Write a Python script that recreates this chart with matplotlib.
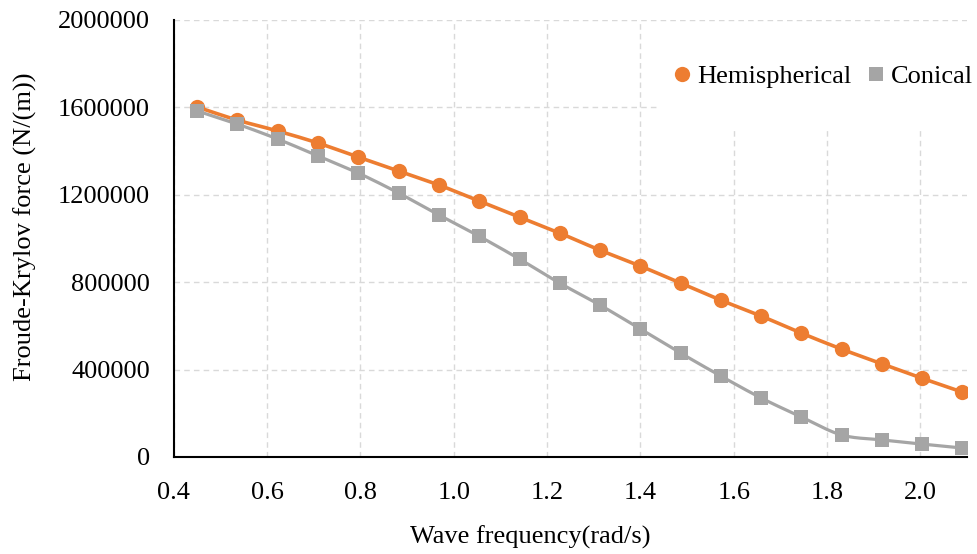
import numpy as np
import matplotlib
matplotlib.use('Agg')
import matplotlib.pyplot as plt
from matplotlib.lines import Line2D
from matplotlib.patches import Rectangle

# Wave frequency (rad/s)
freq = [0.450, 0.536, 0.623, 0.709, 0.795, 0.882, 0.968, 1.054, 1.141, 1.227,
        1.313, 1.400, 1.486, 1.572, 1.659, 1.745, 1.831, 1.918, 2.004, 2.090]

# Froude-Krylov force (N/(m))
hemispherical = [1602000, 1542000, 1492000, 1437000, 1373000, 1309000, 1245000, 1172000,
                 1098000, 1025000, 947000, 874000, 796000, 718000, 645000, 567000,
                 494000, 426000, 360000, 297000]
conical = [1584000, 1524000, 1455000, 1378000, 1300000, 1208000, 1108000, 1011000,
           906000, 796000, 696000, 586000, 476000, 371000, 270000, 183000,
           101000, 78000, 59000, 41000]

x_ticks = [0.4, 0.6, 0.8, 1.0, 1.2, 1.4, 1.6, 1.8, 2.0]
y_ticks = [0, 400000, 800000, 1200000, 1600000, 2000000]

orange = '#ED7D31'
grey = '#A5A5A5'

plt.rcParams['font.family'] = ['Liberation Serif', 'DejaVu Serif']
plt.rcParams['xtick.major.pad'] = 18
plt.rcParams['ytick.major.pad'] = 17
plt.rcParams['xtick.major.size'] = 0
plt.rcParams['ytick.major.size'] = 0


def smooth(x, y, n=20):
    """Catmull-Rom curve through the points, like Excel's smoothed line"""
    x = np.asarray(x, float)
    y = np.asarray(y, float)
    px = np.concatenate([[2 * x[0] - x[1]], x, [2 * x[-1] - x[-2]]])
    py = np.concatenate([[2 * y[0] - y[1]], y, [2 * y[-1] - y[-2]]])
    t = np.linspace(0, 1, n)
    xs, ys = [], []
    for i in range(1, len(px) - 2):
        for p, out in ((px, xs), (py, ys)):
            p0, p1, p2, p3 = p[i - 1], p[i], p[i + 1], p[i + 2]
            out.extend(0.5 * (2 * p1 + (-p0 + p2) * t
                              + (2 * p0 - 5 * p1 + 4 * p2 - p3) * t ** 2
                              + (-p0 + 3 * p1 - 3 * p2 + p3) * t ** 3))
    return np.array(xs), np.array(ys)


fig = plt.figure(figsize=(9.77, 5.54), dpi=100)
ax = fig.add_axes([0.1778, 0.1751, 0.8120, 0.7888])

for series, color, marker, size, lw in ((hemispherical, orange, 'o', 11, 2.6),
                                        (conical, grey, 's', 10.5, 2.3)):
    sx, sy = smooth(freq, series)
    ax.plot(sx, sy, color=color, lw=lw, zorder=3)
    ax.plot(freq, series, linestyle='none', marker=marker, markersize=size,
            color=color, markeredgewidth=0, zorder=4)

ax.set_xlim(0.4, 2.1)
ax.set_ylim(0, 2000000)
ax.set_xticks(x_ticks)
ax.set_xticklabels([f'{t:.1f}' for t in x_ticks])
ax.set_yticks(y_ticks)
ax.set_yticklabels([str(t) for t in y_ticks])
ax.tick_params(axis='both', labelsize=19)

ax.set_axisbelow(True)
ax.grid(True, color='#d9d9d9', linestyle=(0, (4, 3)), linewidth=1)
for side in ['top', 'right']:
    ax.spines[side].set_visible(False)
for side in ['left', 'bottom']:
    ax.spines[side].set_linewidth(1.5)
    ax.spines[side].set_color('black')

ax.set_xlabel('Wave frequency(rad/s)', fontsize=19, va='center')
ax.xaxis.set_label_coords(0.449, -0.183)
ax.set_ylabel('Froude-Krylov force (N/(m))', fontsize=19, va='center')
ax.yaxis.set_label_coords(-0.187, 0.526)

# white legend area sitting over the gridlines
ax.add_patch(Rectangle((0.6755, 0.771), 0.33, 0.19, transform=fig.transFigure,
                       facecolor='white', edgecolor='none', zorder=1, clip_on=False))

handles = [Line2D([], [], linestyle='none', marker='o', markersize=11, color=orange, markeredgewidth=0),
           Line2D([], [], linestyle='none', marker='s', markersize=10, color=grey, markeredgewidth=0)]
ax.legend(handles, ['Hemispherical', 'Conical'], ncol=2, frameon=False, fontsize=19,
          loc='center', bbox_to_anchor=(0.843, 0.862), bbox_transform=fig.transFigure,
          handlelength=0.6, handletextpad=0.3, columnspacing=0.6, borderpad=0)

plt.savefig('out.png', dpi=100)
